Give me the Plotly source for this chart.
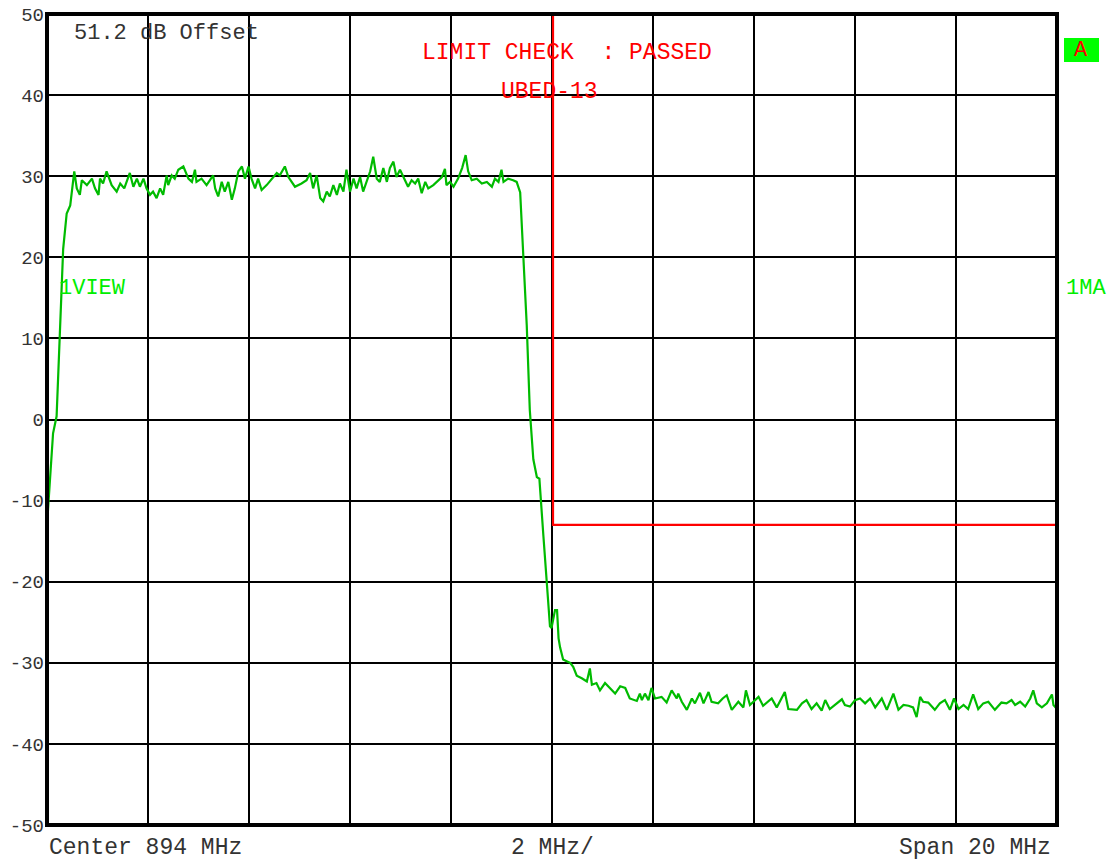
import plotly.graph_objects as go

# Measured spectrum trace (frequency in MHz, level in dB)
freq_mhz = [
    884.00, 884.12, 884.19, 884.32, 884.39, 884.46, 884.54, 884.59, 884.65, 884.69,
    884.79, 884.89, 884.95, 885.02, 885.05, 885.11, 885.18, 885.28, 885.38, 885.45,
    885.53, 885.64, 885.71, 885.78, 885.84, 885.91, 885.97, 886.04, 886.10, 886.17,
    886.24, 886.30, 886.37, 886.40, 886.47, 886.53, 886.60, 886.70, 886.80, 886.87,
    886.93, 886.96, 887.06, 887.16, 887.29, 887.33, 887.39, 887.46, 887.52, 887.59,
    887.66, 887.72, 887.79, 887.86, 887.92, 887.99, 888.05, 888.12, 888.18, 888.25,
    888.35, 888.45, 888.55, 888.61, 888.71, 888.78, 888.91, 889.04, 889.14, 889.21,
    889.27, 889.34, 889.41, 889.47, 889.54, 889.60, 889.67, 889.74, 889.80, 889.87,
    889.93, 890.00, 890.07, 890.13, 890.20, 890.26, 890.33, 890.40, 890.46, 890.53,
    890.59, 890.66, 890.73, 890.79, 890.86, 890.92, 890.99, 891.09, 891.15, 891.22,
    891.29, 891.35, 891.42, 891.49, 891.55, 891.65, 891.75, 891.82, 891.88, 891.91,
    891.98, 892.05, 892.14, 892.22, 892.29, 892.34, 892.41, 892.51, 892.61, 892.71,
    892.81, 892.87, 892.94, 893.00, 893.04, 893.13, 893.23, 893.30, 893.37, 893.43,
    893.50, 893.56, 893.63, 893.70, 893.75, 893.83, 893.90, 893.96, 893.99, 894.06,
    894.10, 894.13, 894.16, 894.22, 894.29, 894.36, 894.42, 894.49, 894.59, 894.69,
    894.75, 894.79, 894.88, 894.95, 895.05, 895.25, 895.35, 895.45, 895.54, 895.68,
    895.74, 895.78, 895.84, 895.91, 895.97, 896.04, 896.17, 896.27, 896.37, 896.47,
    896.50, 896.57, 896.67, 896.77, 896.83, 896.93, 897.00, 897.10, 897.16, 897.29,
    897.38, 897.46, 897.56, 897.69, 897.79, 897.84, 897.92, 898.09, 898.18, 898.35,
    898.45, 898.61, 898.68, 898.85, 898.95, 899.04, 899.14, 899.24, 899.34, 899.41,
    899.50, 899.64, 899.74, 899.80, 899.90, 900.00, 900.10, 900.20, 900.30, 900.40,
    900.53, 900.63, 900.76, 900.86, 900.96, 901.06, 901.15, 901.22, 901.29, 901.35,
    901.45, 901.58, 901.68, 901.78, 901.88, 901.96, 902.05, 902.15, 902.24, 902.34,
    902.44, 902.54, 902.64, 902.77, 902.90, 903.00, 903.10, 903.17, 903.27, 903.37,
    903.47, 903.53, 903.60, 903.70, 903.80, 903.90, 903.93, 904.00,
]
level_db = [
    -13.0, -1.7, 0.4, 21.0, 25.4, 26.4, 30.6, 28.5, 27.7, 29.5,
    28.9, 29.7, 28.5, 27.7, 29.7, 29.1, 30.6, 28.9, 28.1, 29.1,
    28.5, 30.4, 28.7, 29.7, 28.7, 29.7, 28.5, 27.7, 28.1, 27.3,
    28.5, 27.7, 30.1, 28.9, 30.1, 29.7, 30.8, 31.2, 29.7, 29.3,
    30.8, 29.3, 29.7, 28.9, 30.1, 28.5, 27.5, 29.3, 28.1, 29.3,
    27.1, 28.5, 30.6, 31.2, 29.7, 31.2, 29.7, 28.5, 29.7, 28.3,
    28.9, 29.7, 30.4, 30.1, 31.2, 29.9, 28.7, 29.1, 29.5, 30.4,
    28.5, 30.1, 27.3, 26.9, 28.1, 27.5, 28.9, 27.7, 29.1, 28.1,
    30.8, 28.1, 29.7, 28.5, 29.9, 28.1, 29.3, 30.6, 32.4, 29.7,
    29.3, 31.0, 29.3, 31.0, 31.8, 29.9, 30.8, 29.5, 28.7, 29.5,
    29.1, 29.7, 27.9, 29.3, 28.5, 28.9, 29.5, 29.9, 30.9, 28.9,
    29.3, 28.7, 29.7, 31.0, 32.6, 30.6, 29.5, 29.7, 29.1, 29.3,
    28.7, 29.7, 29.3, 30.8, 29.3, 29.7, 29.5, 29.3, 28.0, 20.2,
    11.6, 1.2, -4.9, -7.1, -7.3, -14.4, -20.1, -25.5, -25.7, -23.5,
    -23.5, -27.0, -28.1, -29.6, -29.8, -30.0, -30.5, -31.6, -31.9, -32.3,
    -30.7, -32.7, -32.5, -33.4, -32.5, -33.8, -32.9, -33.1, -34.4, -34.7,
    -33.8, -34.6, -33.8, -34.6, -33.1, -34.4, -34.2, -34.9, -33.4, -34.4,
    -33.8, -34.8, -35.8, -34.4, -35.0, -33.7, -35.0, -33.6, -34.8, -35.0,
    -34.4, -34.0, -35.8, -34.8, -35.5, -33.4, -35.2, -34.2, -35.3, -34.4,
    -35.5, -33.6, -35.7, -35.8, -35.0, -34.6, -35.7, -35.0, -35.9, -34.6,
    -35.7, -35.0, -34.5, -35.2, -35.4, -34.6, -34.4, -35.0, -34.4, -35.5,
    -34.4, -35.8, -33.8, -35.8, -35.2, -35.3, -35.5, -36.7, -34.2, -34.8,
    -34.9, -35.8, -35.0, -34.6, -35.8, -34.4, -35.7, -35.2, -35.7, -33.9,
    -35.7, -35.0, -34.8, -35.8, -34.9, -35.0, -34.6, -35.2, -34.8, -35.4,
    -34.4, -33.4, -35.0, -35.5, -35.0, -33.9, -35.2, -35.7,
]

# Limit line (UBED-13)
limit_freq = [894.02, 894.02, 904.0]
limit_level = [50.0, -13.0, -13.0]

y_ticks = [50, 40, 30, 20, 10, 0, -10, -20, -30, -40, -50]

FONT = "Liberation Mono, DejaVu Sans Mono, monospace"
GREEN_TRACE = "#00bb00"
GREEN_TEXT = "#00ee00"
RED = "#ff0000"
INK = "#333333"

# plot area in pixels
L, R, T, B = 47, 1057, 14, 825


def px(x):
    return (x - L) / (R - L)


def py(y):
    return (B - y) / (B - T)


fig = go.Figure()
fig.add_trace(go.Scatter(
    x=limit_freq, y=limit_level, mode="lines",
    line=dict(color=RED, width=2.2), hoverinfo="skip",
))
fig.add_trace(go.Scatter(
    x=freq_mhz, y=level_db, mode="lines",
    line=dict(color=GREEN_TRACE, width=2.2),
))

fig.update_layout(
    width=1110, height=863,
    margin=dict(l=L, r=1110 - R, t=T, b=863 - B, autoexpand=False),
    paper_bgcolor="white", plot_bgcolor="white",
    showlegend=False,
    xaxis=dict(
        range=[884, 904], tick0=884, dtick=2, automargin=False,
        showgrid=True, gridcolor="black", gridwidth=2,
        zeroline=False, showticklabels=False, ticks="",
    ),
    yaxis=dict(
        range=[-50, 50], tickvals=y_ticks, ticktext=[str(v) for v in y_ticks],
        automargin=False,
        showgrid=True, gridcolor="black", gridwidth=2,
        zeroline=False, ticks="", ticklabelstandoff=2,
        tickfont=dict(family=FONT, size=19, color=INK),
    ),
)

# heavy frame around the graticule
fig.add_shape(type="rect", xref="paper", yref="paper", x0=0, x1=1, y0=0, y1=1,
              line=dict(color="black", width=4), layer="above")

# status box "A" at the right
fig.add_shape(type="rect", xref="paper", yref="paper",
              x0=px(1064), x1=px(1099), y0=py(62), y1=py(38),
              line=dict(width=0), fillcolor="#00ff00", layer="above")


def label(text, x, y, color, size, anchor="left"):
    fig.add_annotation(text=text, xref="paper", yref="paper",
                       x=px(x), y=py(y), xanchor=anchor, yanchor="middle",
                       showarrow=False, font=dict(family=FONT, size=size, color=color))


label("51.2 dB Offset", 72, 33, INK, 22)
label("LIMIT CHECK \u00a0: PASSED", 567, 53, RED, 23, "center")
label("UBED-13", 549, 92, RED, 23, "center")
label("1VIEW", 57, 288, GREEN_TEXT, 22)
label("1MA", 1064, 288, GREEN_TEXT, 22)
label("A", 1081, 50, RED, 22, "center")
label("Center 894 MHz", 47, 848, INK, 23)
label("2 MHz/", 552, 848, INK, 23, "center")
label("Span 20 MHz", 1053, 848, INK, 23, "right")

fig.write_html("out.html")
